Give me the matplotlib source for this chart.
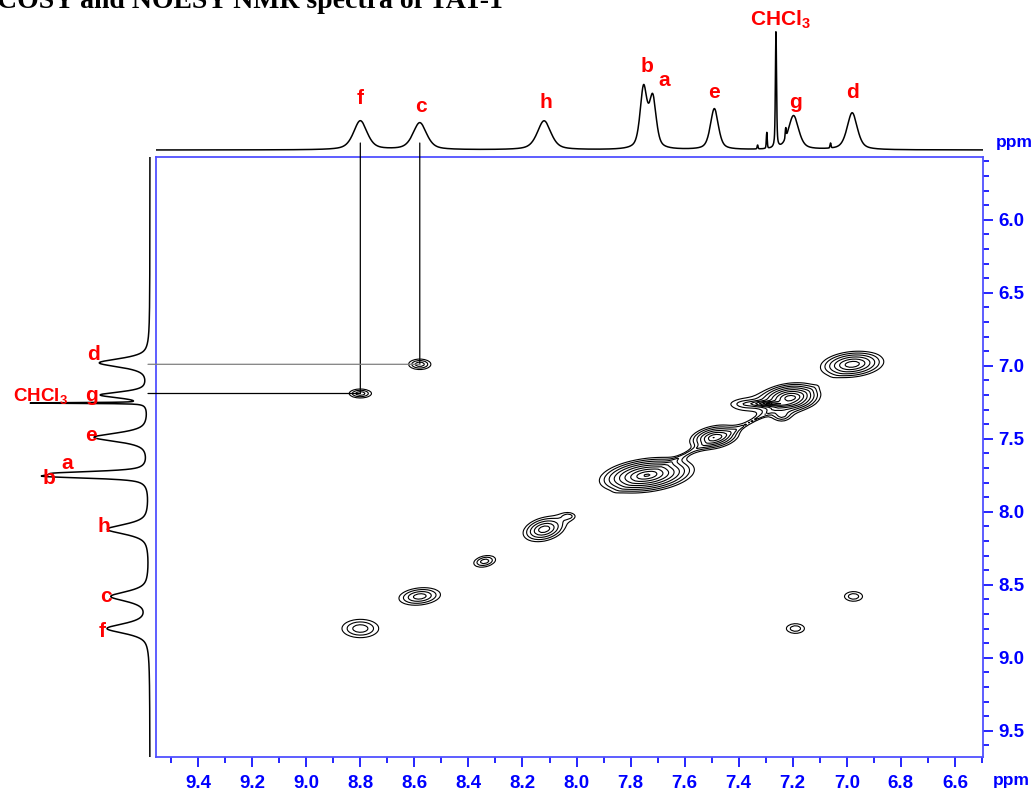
import numpy as np
import matplotlib
matplotlib.use("Agg")
from matplotlib import pyplot as plt
from matplotlib.patches import ConnectionPatch
from matplotlib.ticker import MultipleLocator, FormatStrFormatter

plt.rcParams['font.family'] = ['Liberation Sans', 'DejaVu Sans']
plt.rcParams['mathtext.fontset'] = 'custom'
plt.rcParams['mathtext.rm'] = 'Liberation Sans:bold'
plt.rcParams['mathtext.it'] = 'Liberation Sans:bold'
plt.rcParams['mathtext.bf'] = 'Liberation Sans:bold'

# ---- data ----
# 1D proton spectrum along the top: label, ppm, height, width
top_labels = ['f', 'c', 'h', 'b', 'a', 'e', 'CHCl$_3$', 'g', 'd']
top_ppm    = [8.80, 8.58, 8.12, 7.752, 7.718, 7.49, 7.262, 7.197, 6.98]
top_height = [29, 27, 29, 60, 50, 41, 117, 34, 37]
top_fwhm   = [0.06, 0.06, 0.06, 0.03, 0.03, 0.035, 0.005, 0.045, 0.045]
# small impurity spikes on the top trace
spike_ppm    = [7.296, 7.226, 7.06, 7.33]
spike_height = [16, 10, 5, 4]

# 1D projection on the left
left_labels = ['d', 'g', 'CHCl$_3$', 'e', 'a', 'b', 'h', 'c', 'f']
left_ppm    = [6.98, 7.20, 7.255, 7.49, 7.735, 7.758, 8.12, 8.58, 8.80]
left_height = [50, 48, 117, 55, 72, 86, 42, 38, 42]
left_fwhm   = [0.07, 0.05, 0.006, 0.07, 0.03, 0.03, 0.08, 0.08, 0.08]

# 2D peaks: x ppm, y ppm, amplitude, sx, sy, correlation
pk_x   = [6.98, 7.21, 7.28, 7.24, 7.49, 7.74, 8.12, 8.03, 8.34, 8.58, 8.80,
          8.80, 8.58, 7.19, 6.975, 7.38, 7.60, 7.34]
pk_y   = [6.99, 7.22, 7.26, 7.34, 7.49, 7.75, 8.12, 8.03, 8.34, 8.58, 8.80,
          7.19, 6.99, 8.80, 8.58, 7.265, 7.61, 7.37]
pk_amp = [7.5, 14, 12, 2.0, 7.5, 16, 5.4, 1.5, 2.7, 3.8, 2.8,
          2.8, 2.8, 2.0, 2.0, 1.5, 1.15, 1.15]
pk_sx  = [0.065, 0.05, 0.037, 0.03, 0.05, 0.075, 0.05, 0.03, 0.04, 0.06, 0.066,
          0.04, 0.04, 0.045, 0.045, 0.085, 0.15, 0.15]
pk_sy  = [0.05, 0.045, 0.009, 0.04, 0.045, 0.052, 0.055, 0.03, 0.04, 0.047, 0.061,
          0.03, 0.035, 0.045, 0.045, 0.065, 0.15, 0.15]
pk_rho = [0.2, 0.2, 0.0, 0.0, 0.3, 0.3, 0.3, 0.0, 0.3, 0.2, 0.0,
          0.0, 0.0, 0.0, 0.0, 0.0, 0.995, 0.995]

# correlations marked with guide lines: (x ppm, y ppm, colour)
links = [(8.80, 7.19, 'black'), (8.58, 6.99, 'gray')]

x_lim = (9.556, 6.496)
y_lim = (9.68, 5.57)
W, H = 1033, 791

def pv(x, x0, h, w, eta):
    lor = 1 / (1 + ((x - x0) / (w / 2)) ** 2)
    gau = np.exp(-4 * np.log(2) * ((x - x0) / w) ** 2)
    return h * (eta * lor + (1 - eta) * gau)

fig = plt.figure(figsize=(W / 100, H / 100), dpi=100)

def px_axes(l, t, r, b):
    return fig.add_axes([l / W, 1 - b / H, (r - l) / W, (b - t) / H])

blue = '#0000ff'
ax = px_axes(156, 157, 983, 757)
ax_top = px_axes(156, 15, 983, 157)
ax_left = px_axes(0, 157, 156, 757)

# ---- 2D contour ----
gx = np.arange(6.45, 9.6, 0.012)
gy = np.arange(5.5, 9.75, 0.008)
X, Y = np.meshgrid(gx, gy)
Z = np.zeros_like(X)
for x0, y0, a, sx, sy, r in zip(pk_x, pk_y, pk_amp, pk_sx, pk_sy, pk_rho):
    dx = (X - x0) / sx
    dy = (Y - y0) / sy
    q = (dx**2 - 2*r*dx*dy + dy**2) / (1 - r**2)
    Z += a * np.exp(-q ** 0.6)
levels = [1.4 ** k for k in range(14)]
ax.contour(X, Y, Z, levels=levels, colors='black', linewidths=0.8)

ax.set_xlim(*x_lim)
ax.set_ylim(*y_lim)
for s in ['left', 'top', 'right', 'bottom']:
    ax.spines[s].set_color('#5050ff')
    ax.spines[s].set_linewidth(1.3)
ax.yaxis.tick_right()
ax.xaxis.set_major_locator(MultipleLocator(0.2))
ax.xaxis.set_minor_locator(MultipleLocator(0.1))
ax.yaxis.set_major_locator(MultipleLocator(0.5))
ax.yaxis.set_minor_locator(MultipleLocator(0.1))
ax.xaxis.set_major_formatter(FormatStrFormatter('%.1f'))
ax.yaxis.set_major_formatter(FormatStrFormatter('%.1f'))
ax.tick_params(axis='both', which='both', direction='out', color=blue,
               labelcolor=blue, labelsize=13.5, width=1.2)
ax.tick_params(axis='x', which='major', length=7, pad=6)
ax.tick_params(axis='x', which='minor', length=4)
ax.tick_params(axis='y', which='major', length=7, pad=4)
ax.tick_params(axis='y', which='minor', length=4)
for lab in ax.get_xticklabels() + ax.get_yticklabels():
    lab.set_fontweight('bold')
fig.text(993 / W, 1 - 780 / H, 'ppm', color=blue, fontsize=12.5,
         fontweight='bold', ha='left', va='center')
fig.text(996 / W, 1 - 143 / H, 'ppm', color=blue, fontsize=12.5,
         fontweight='bold', ha='left', va='center')

# ---- top trace ----
xs = np.linspace(x_lim[1], x_lim[0], 3000)
trace = np.zeros_like(xs)
for p, h, w in zip(top_ppm, top_height, top_fwhm):
    trace += pv(xs, p, h, w, 0.55)
for p, h in zip(spike_ppm, spike_height):
    trace += pv(xs, p, h, 0.004, 0.3)
ax_top.plot(xs, trace, color='black', lw=1.1)
ax_top.set_xlim(*x_lim)
ax_top.set_ylim(-7, 135)
ax_top.axis('off')

top_lab_x = [8.80, 8.575, 8.115, 7.74, 7.675, 7.49, 7.245, 7.19, 6.98]
top_lab_y = [52, 44, 47, 84, 70, 57, 130, 48, 57]
for lab, lx, ly in zip(top_labels, top_lab_x, top_lab_y):
    ax_top.text(lx, ly, lab, color='red', fontsize=15, fontweight='bold',
                ha='center', va='center')

# ---- left trace ----
ys = np.linspace(y_lim[1], y_lim[0], 3000)
ltrace = np.zeros_like(ys)
for p, h, w in zip(left_ppm, left_height, left_fwhm):
    ltrace += pv(ys, p, h, w, 0.7)
ax_left.plot(ltrace, ys, color='black', lw=1.1)
ax_left.set_xlim(150, -6)
ax_left.set_ylim(*y_lim)
ax_left.axis('off')

left_lab_x = [57, 58, 110, 59, 83, 101, 46, 44, 48]
left_lab_y = [6.925, 7.205, 7.205, 7.48, 7.67, 7.77, 8.10, 8.58, 8.82]
for lab, lx, ly in zip(left_labels, left_lab_x, left_lab_y):
    ax_left.text(lx, ly, lab, color='red', fontweight='bold',
                 fontsize=13.5 if 'CHCl' in lab else 15,
                 ha='center', va='center')

# ---- guide lines ----
for cx, cy, col in links:
    fig.add_artist(ConnectionPatch(xyA=(cx, 7), coordsA=ax_top.transData,
                                   xyB=(cx, cy), coordsB=ax.transData,
                                   color='black', lw=0.9))
    fig.add_artist(ConnectionPatch(xyA=(2, cy), coordsA=ax_left.transData,
                                   xyB=(cx, cy), coordsB=ax.transData,
                                   color=col, lw=0.9))

fig.text(-3 / W, 1 - 8 / H, 'COSY and NOESY NMR spectra of TAT-1',
         family='Liberation Serif', fontweight='bold', fontsize=20,
         ha='left', va='baseline')

fig.savefig('out.png', dpi=100)
